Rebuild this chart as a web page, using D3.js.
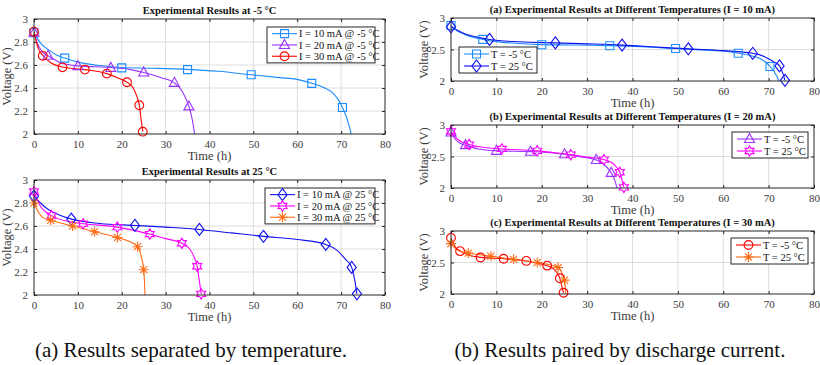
<!DOCTYPE html>
<html>
<head>
<meta charset="utf-8">
<script src="https://cdn.jsdelivr.net/npm/d3@7"></script>
<style>
  body { margin: 0; background: #fff; }
  text { font-family: "Liberation Serif", "Times New Roman", serif; }
</style>
</head>
<body>
<svg id="chart" width="820" height="365"></svg>
<script>
// ---- data: [time (h), voltage (V)] ----
const timeTicks = [0, 10, 20, 30, 40, 50, 60, 70, 80];
const voltTicksFine = [2, 2.2, 2.4, 2.6, 2.8, 3];
const voltTicksCoarse = [2, 2.5, 3];

// -5 °C
const curve10m5 = [[0, 2.88], [1.5, 2.79], [3, 2.74], [5, 2.69], [7, 2.66], [10, 2.625], [15, 2.595], [20, 2.578], [27, 2.572], [35, 2.562], [42, 2.545], [49.5, 2.515], [56, 2.49], [60, 2.475], [63.5, 2.44], [66, 2.405], [68, 2.36], [69.5, 2.29], [70.3, 2.23], [71.2, 2.15], [71.9, 2.06], [72.3, 2.0]];
const marks10m5 = [[0, 2.88], [7, 2.66], [20, 2.575], [35, 2.56], [49.5, 2.515], [63.3, 2.44], [70.3, 2.23]];

const curve20m5 = [[0, 2.88], [1, 2.77], [2, 2.71], [3.2, 2.68], [6, 2.62], [10, 2.592], [17.5, 2.578], [22, 2.56], [25, 2.535], [29, 2.49], [32, 2.445], [33.8, 2.37], [35.3, 2.24], [36.1, 2.12], [36.6, 2.0]];
const marks20m5 = [[0, 2.88], [3.2, 2.68], [10, 2.59], [17.5, 2.575], [25, 2.535], [32, 2.445], [35.3, 2.24]];

const curve30m5 = [[0, 2.89], [1, 2.74], [2, 2.685], [4, 2.615], [6.5, 2.582], [11.6, 2.56], [16.6, 2.525], [19, 2.49], [21.2, 2.45], [22.6, 2.4], [23.5, 2.32], [24, 2.25], [24.5, 2.1], [24.8, 2.02]];
const marks30m5 = [[0, 2.89], [2, 2.68], [6.5, 2.58], [11.6, 2.56], [16.6, 2.525], [21.2, 2.45], [24, 2.25], [24.8, 2.02]];

// 25 °C
const curve10p25 = [[0, 2.86], [1.5, 2.8], [3, 2.75], [5.5, 2.7], [8.5, 2.66], [15, 2.622], [23, 2.605], [30, 2.59], [37.7, 2.57], [45, 2.54], [52.3, 2.51], [60, 2.482], [66.5, 2.44], [69, 2.39], [71, 2.31], [72.4, 2.24], [73.1, 2.13], [73.6, 2.01]];
const marks10p25 = [[0, 2.86], [8.5, 2.66], [23, 2.605], [37.7, 2.57], [52.3, 2.51], [66.5, 2.44], [72.4, 2.24], [73.6, 2.01]];

const curve20p25 = [[0, 2.9], [1.5, 2.77], [4, 2.69], [8, 2.638], [11.2, 2.62], [19, 2.59], [23, 2.56], [26.4, 2.53], [30, 2.49], [33.7, 2.45], [35.5, 2.4], [36.5, 2.33], [37.2, 2.25], [37.7, 2.12], [38.1, 2.01]];
const marks20p25 = [[0, 2.9], [4, 2.69], [11.2, 2.62], [19, 2.59], [26.4, 2.53], [33.7, 2.45], [37.2, 2.25], [38.1, 2.01]];

const curve30p25 = [[0, 2.8], [1, 2.72], [2, 2.675], [3.8, 2.65], [8.8, 2.6], [13.8, 2.55], [19, 2.5], [22, 2.46], [23.6, 2.42], [24.4, 2.34], [25, 2.22], [25.2, 2.1], [25.3, 2.0]];
const marks30p25 = [[0, 2.8], [3.8, 2.65], [8.8, 2.6], [13.8, 2.55], [19, 2.5], [23.6, 2.42], [25, 2.22]];

// ---- series styles ----
const S = {
  m5_10: { curve: curve10m5, marks: marks10m5, color: "#1a8cff", marker: "square" },
  m5_20: { curve: curve20m5, marks: marks20m5, color: "#9933ff", marker: "triangle" },
  m5_30: { curve: curve30m5, marks: marks30m5, color: "#ff0000", marker: "circle" },
  p25_10: { curve: curve10p25, marks: marks10p25, color: "#1010f0", marker: "diamond" },
  p25_20: { curve: curve20p25, marks: marks20p25, color: "#ff00ff", marker: "hexagram" },
  p25_30: { curve: curve30p25, marks: marks30p25, color: "#ff6a14", marker: "asterisk" }
};

// marker paths, centred on 0,0
function markerPath(type) {
  if (type === "square") return "M-4,-4H4V4H-4Z";
  if (type === "triangle") return "M0,-5.5L5,3.5H-5Z";
  if (type === "circle") return d3.symbol(d3.symbolCircle, 60)();
  if (type === "diamond") return "M0,-6L4.6,0L0,6L-4.6,0Z";
  if (type === "hexagram") {
    const R = 5.2, r = R / Math.sqrt(3), pts = [];
    for (let i = 0; i < 12; i++) {
      const a = -Math.PI / 2 + i * Math.PI / 6;
      const rr = i % 2 ? r : R;
      pts.push([rr * Math.cos(a), rr * Math.sin(a)]);
    }
    return "M" + pts.map(p => p.join(",")).join("L") + "Z";
  }
  if (type === "asterisk") {
    const R = 5, d = R * Math.SQRT1_2;
    return `M${-R},0H${R}M0,${-R}V${R}M${-d},${-d}L${d},${d}M${-d},${d}L${d},${-d}`;
  }
}

const panels = [
  { x0: 34, x1: 385, y0: 19, y1: 134, yTicks: voltTicksFine, title: "Experimental Results at -5 °C",
    series: [["m5_10", "I = 10 mA @ -5 °C"], ["m5_20", "I = 20 mA @ -5 °C"], ["m5_30", "I = 30 mA @ -5 °C"]],
    legend: { x: 267, y: 27, w: 108 } },
  { x0: 34, x1: 385, y0: 180, y1: 295, yTicks: voltTicksFine, title: "Experimental Results at 25 °C",
    series: [["p25_10", "I = 10 mA @ 25 °C"], ["p25_20", "I = 20 mA @ 25 °C"], ["p25_30", "I = 30 mA @ 25 °C"]],
    legend: { x: 265, y: 188, w: 110 } },
  { x0: 451, x1: 814, y0: 18, y1: 81, yTicks: voltTicksCoarse, title: "(a) Experimental Results at Different Temperatures (I = 10 mA)",
    series: [["m5_10", "T = -5 °C"], ["p25_10", "T = 25 °C"]],
    legend: { x: 459, y: 47, w: 78 } },
  { x0: 451, x1: 814, y0: 125, y1: 188, yTicks: voltTicksCoarse, title: "(b) Experimental Results at Different Temperatures (I = 20 mA)",
    series: [["m5_20", "T = -5 °C"], ["p25_20", "T = 25 °C"]],
    legend: { x: 732, y: 132, w: 76 } },
  { x0: 451, x1: 814, y0: 231, y1: 294, yTicks: voltTicksCoarse, title: "(c) Experimental Results at Different Temperatures (I = 30 mA)",
    series: [["m5_30", "T = -5 °C"], ["p25_30", "T = 25 °C"]],
    legend: { x: 731, y: 238, w: 77 } }
];

const svg = d3.select("#chart");
const axisColor = "#262626";

panels.forEach((p, pi) => {
  const x = d3.scaleLinear().domain([0, 80]).range([p.x0, p.x1]);
  const y = d3.scaleLinear().domain([2, 3]).range([p.y1, p.y0]);
  const g = svg.append("g");

  // grid
  g.append("g").selectAll("line").data(timeTicks.slice(1, -1)).join("line")
    .attr("x1", d => x(d)).attr("x2", d => x(d)).attr("y1", p.y0).attr("y2", p.y1)
    .attr("stroke", "#dcdcdc").attr("stroke-width", 1);
  g.append("g").selectAll("line").data(p.yTicks.slice(1, -1)).join("line")
    .attr("y1", d => y(d)).attr("y2", d => y(d)).attr("x1", p.x0).attr("x2", p.x1)
    .attr("stroke", "#dcdcdc").attr("stroke-width", 1);

  // axes (inward ticks, MATLAB style box)
  const fmt = d3.format("");
  const styleAxis = sel => {
    sel.select(".domain").remove();
    sel.selectAll("line").attr("stroke", axisColor);
    sel.selectAll("text").attr("fill", "#3a3a3a").style("font-size", "11px")
      .style("font-family", "Liberation Serif, serif");
  };
  g.append("g").attr("transform", `translate(0,${p.y1})`)
    .call(d3.axisBottom(x).tickValues(timeTicks).tickFormat(fmt).tickSizeInner(-3).tickPadding(6))
    .call(styleAxis);
  g.append("g").attr("transform", `translate(0,${p.y0})`)
    .call(d3.axisTop(x).tickValues(timeTicks).tickFormat("").tickSizeInner(-3))
    .call(styleAxis);
  g.append("g").attr("transform", `translate(${p.x0},0)`)
    .call(d3.axisLeft(y).tickValues(p.yTicks).tickFormat(fmt).tickSizeInner(-3).tickPadding(6))
    .call(styleAxis);
  g.append("g").attr("transform", `translate(${p.x1},0)`)
    .call(d3.axisRight(y).tickValues(p.yTicks).tickFormat("").tickSizeInner(-3))
    .call(styleAxis);

  // clip
  const clipId = "clip" + pi;
  svg.append("clipPath").attr("id", clipId).append("rect")
    .attr("x", p.x0).attr("y", p.y0 - 8).attr("width", p.x1 - p.x0).attr("height", p.y1 - p.y0 + 8);

  const line = d3.line().x(d => x(d[0])).y(d => y(d[1])).curve(d3.curveMonotoneX);
  p.series.forEach(([key]) => {
    const s = S[key];
    g.append("path").datum(s.curve).attr("d", line).attr("fill", "none")
      .attr("stroke", s.color).attr("stroke-width", 1.1).attr("clip-path", `url(#${clipId})`);
  });
  p.series.forEach(([key]) => {
    const s = S[key];
    g.append("g").selectAll("path").data(s.marks).join("path")
      .attr("transform", d => `translate(${x(d[0])},${y(d[1])})`)
      .attr("d", markerPath(s.marker)).attr("fill", "none")
      .attr("stroke", s.color).attr("stroke-width", 1.1);
  });

  // box
  g.append("rect").attr("x", p.x0).attr("y", p.y0).attr("width", p.x1 - p.x0).attr("height", p.y1 - p.y0)
    .attr("fill", "none").attr("stroke", axisColor).attr("stroke-width", 1);

  // labels
  g.append("text").attr("x", (p.x0 + p.x1) / 2).attr("y", p.y0 - 5).attr("text-anchor", "middle")
    .style("font-size", "10.5px").style("font-weight", "bold").attr("fill", "#111").text(p.title);
  g.append("text").attr("x", (p.x0 + p.x1) / 2).attr("y", p.y1 + 26).attr("text-anchor", "middle")
    .style("font-size", "12.5px").attr("fill", "#3a3a3a").text("Time (h)");
  g.append("text").attr("transform", `translate(${p.x0 - 23},${(p.y0 + p.y1) / 2}) rotate(-90)`)
    .attr("text-anchor", "middle").style("font-size", "12.5px").attr("fill", "#3a3a3a").text("Voltage (V)");

  // legend
  const L = p.legend, rowH = p.series.length === 3 ? 11.3 : 12;
  const lh = p.series.length * rowH + 2;
  g.append("rect").attr("x", L.x).attr("y", L.y).attr("width", L.w).attr("height", lh)
    .attr("fill", "#fff").attr("stroke", axisColor).attr("stroke-width", 1);
  p.series.forEach(([key, label], i) => {
    const s = S[key], cy = L.y + 1 + rowH * (i + 0.5);
    g.append("line").attr("x1", L.x + 5).attr("x2", L.x + 30).attr("y1", cy).attr("y2", cy)
      .attr("stroke", s.color).attr("stroke-width", 1.1);
    g.append("path").attr("transform", `translate(${L.x + 17.5},${cy})`).attr("d", markerPath(s.marker))
      .attr("fill", "none").attr("stroke", s.color).attr("stroke-width", 1.1);
    g.append("text").attr("x", L.x + 32).attr("y", cy + 3.6).style("font-size", "10.5px")
      .attr("fill", "#111").text(label);
  });
});

// sub-captions
svg.append("text").attr("x", 191).attr("y", 357).attr("text-anchor", "middle")
  .style("font-size", "21px").attr("fill", "#111").text("(a) Results separated by temperature.");
svg.append("text").attr("x", 620).attr("y", 357).attr("text-anchor", "middle")
  .style("font-size", "21px").attr("fill", "#111").text("(b) Results paired by discharge current.");
</script>
</body>
</html>
